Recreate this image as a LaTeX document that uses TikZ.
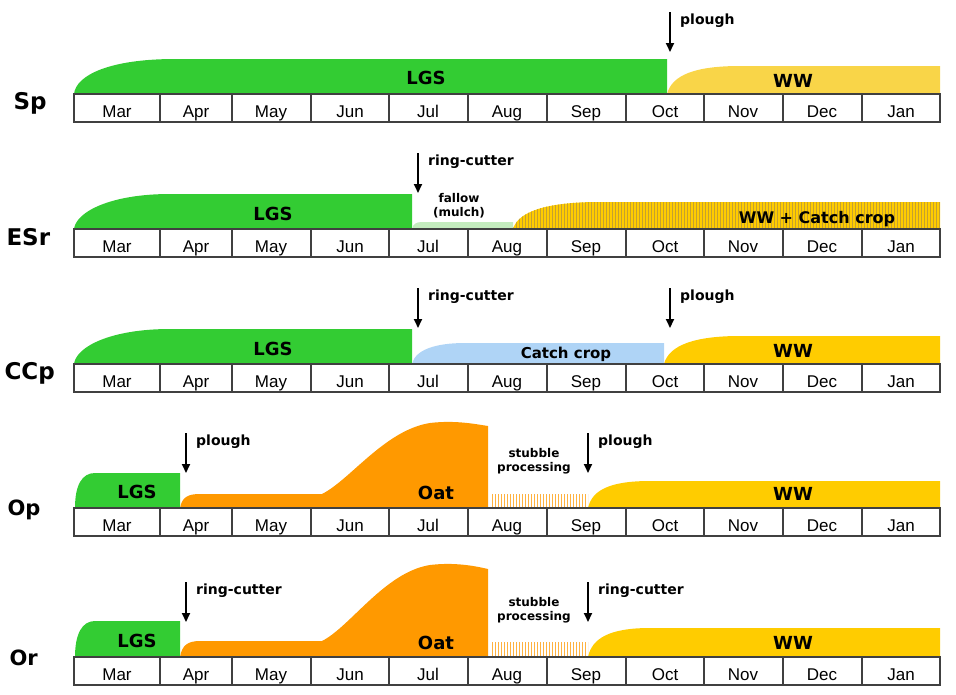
\documentclass[tikz,border=0pt]{standalone}
\usepackage{fontspec}
\setmainfont{Liberation Sans}
\newfontfamily\vfont{DejaVu Sans}
\usetikzlibrary{arrows.meta,patterns}

\definecolor{lgsgreen}{HTML}{33CC33}
\definecolor{wwyellow}{HTML}{FFCC00}
\definecolor{wwlight}{HTML}{F9D548}
\definecolor{oatorange}{HTML}{FF9900}
\definecolor{fallowgreen}{HTML}{C4ECBE}
\definecolor{catchblue}{HTML}{AFD4F6}
\definecolor{stripe}{HTML}{C4A030}
\definecolor{barline}{HTML}{404040}

\begin{document}
\begin{tikzpicture}[x=1pt, y=-1pt,
    crop/.style={font=\vfont\bfseries\fontsize{18}{20}\selectfont, anchor=base},
    rowname/.style={font=\vfont\bfseries\fontsize{23}{25}\selectfont, anchor=base west},
    tool/.style={font=\vfont\bfseries\fontsize{14}{16}\selectfont, anchor=base west, inner sep=0pt},
    note/.style={font=\vfont\bfseries\fontsize{12}{14}\selectfont, align=center},
    month/.style={font=\fontsize{17}{19}\selectfont, anchor=base},
    cut/.style={-{Triangle[length=9pt,width=8pt]}, line width=1.8pt},
    bar/.style={draw=barline, line width=1.4pt}]
   \useasboundingbox (0,0) rectangle (956,694);

   % Sp
   \fill[lgsgreen] (74,94) .. controls (76,75) and (110,59) .. (175,59) -- (667,59) -- (667,94) -- cycle;
   \fill[wwlight] (667,94) .. controls (672,75) and (695,66) .. (740,66) -- (940,66) -- (940,94) -- cycle;
   % ESr
   \fill[lgsgreen] (74,229) .. controls (76,212) and (110,194) .. (170,194) -- (412,194) -- (412,229) -- cycle;
   \fill[fallowgreen] (412,229) .. controls (413,224) and (416,222) .. (422,222) -- (513,222) -- (513,229) -- cycle;
   \path[fill=wwyellow, postaction={pattern=vertical lines, pattern color=stripe}]
     (513,229) .. controls (518,212) and (545,202) .. (600,202) -- (940,202) -- (940,229) -- cycle;
   % CCp
   \fill[lgsgreen] (74,364) .. controls (76,347) and (110,329) .. (170,329) -- (412,329) -- (412,364) -- cycle;
   \fill[catchblue] (412,364) .. controls (415,350) and (435,343) .. (465,343) -- (664,343) -- (664,364) -- cycle;
   \fill[wwyellow] (664,364) .. controls (669,345) and (695,336) .. (740,336) -- (940,336) -- (940,364) -- cycle;
   % Op
   \fill[lgsgreen] (75,508) .. controls (75,485) and (82,473) .. (95,473) -- (180,473) -- (180,508) -- cycle;
   \fill[oatorange] (180,508) .. controls (182,497) and (188,494) .. (200,494) -- (322,494)
     .. controls (350,480) and (385,430) .. (430,423) .. controls (455,420) and (475,424) .. (488,426) -- (488,508) -- cycle;
   \fill[pattern=vertical lines, pattern color=oatorange!75] (490,494) rectangle (588,508);
   \fill[wwyellow] (588,508) .. controls (592,490) and (610,481) .. (650,481) -- (940,481) -- (940,508) -- cycle;
   % Or
   \fill[lgsgreen] (75,657) .. controls (75,634) and (82,621) .. (95,621) -- (180,621) -- (180,657) -- cycle;
   \fill[oatorange] (180,657) .. controls (182,645) and (188,641) .. (200,641) -- (322,641)
     .. controls (350,627) and (385,572) .. (430,565) .. controls (455,562) and (475,566) .. (488,569) -- (488,657) -- cycle;
   \fill[pattern=vertical lines, pattern color=oatorange!75] (490,642) rectangle (588,657);
   \fill[wwyellow] (588,657) .. controls (592,638) and (610,628) .. (650,628) -- (940,628) -- (940,657) -- cycle;

   % month bars
   \foreach \rw/\ty in {sp/94, esr/229, ccp/364, op/508, or/657} {
     \draw[bar, fill=white] (74,\ty) rectangle (940,\ty+28);
     \foreach \sx in {160,232,311,389,468,547,626,704,783,862}
       \draw[bar] (\sx,\ty) -- (\sx,\ty+28);
     \foreach \m/\cx in {Mar/117, Apr/196, May/271, Jun/350, Jul/428, Aug/507, Sep/586, Oct/665, Nov/743, Dec/822, Jan/901}
       \node[month] (\rw-\m) at (\cx,\ty+23) {\m};
   }

   % row names
   \node[rowname] (sp)  at (10,109)  {Sp};
   \node[rowname] (esr) at (3,245)   {ESr};
   \node[rowname] (ccp) at (1,379)   {CCp};
   \node[rowname, font=\vfont\bfseries\fontsize{21}{23}\selectfont] (op) at (4,515) {Op};
   \node[rowname, font=\vfont\bfseries\fontsize{21}{23}\selectfont] (or) at (6,665) {Or};

   % crop labels
   \begin{scope}[every node/.style={crop}]
    \node (sp-lgs)  at (426,84)  {LGS};
    \node (sp-ww)   at (793,87)  {WW};
    \node (esr-lgs) at (273,220) {LGS};
    \node[font=\vfont\bfseries\fontsize{16}{18}\selectfont] (esr-ww) at (817,223) {WW + Catch crop};
    \node (ccp-lgs) at (273,355) {LGS};
    \node[font=\vfont\bfseries\fontsize{15}{17}\selectfont] (ccp-cc) at (566,358) {Catch crop};
    \node (ccp-ww)  at (793,357) {WW};
    \node (op-lgs)  at (137,498) {LGS};
    \node (op-oat)  at (436,499) {Oat};
    \node (op-ww)   at (793,500) {WW};
    \node (or-lgs)  at (137,647) {LGS};
    \node (or-oat)  at (436,649) {Oat};
    \node (or-ww)   at (793,649) {WW};
   \end{scope}

   \node[note] (esr-fallow) at (459,206) {fallow\\(mulch)};
   \node[note] (op-stubble) at (534,461) {stubble\\processing};
   \node[note] (or-stubble) at (534,610) {stubble\\processing};

   % tillage arrows
   \foreach \n/\ax/\ay/\txt in {sp1/670/12/plough, esr1/418/153/ring-cutter, ccp1/418/288/ring-cutter,
       ccp2/670/288/plough, op1/186/433/plough, op2/588/433/plough, or1/186/582/ring-cutter, or2/588/582/ring-cutter} {
     \coordinate (\n-top) at (\ax,\ay);
     \coordinate (\n-tip) at (\ax,\ay+40);
     \draw[cut] (\n-top) -- (\n-tip);
     \node[tool] (\n) at (\ax+10,\ay+12) {\txt};
   }
\end{tikzpicture}
\end{document}
